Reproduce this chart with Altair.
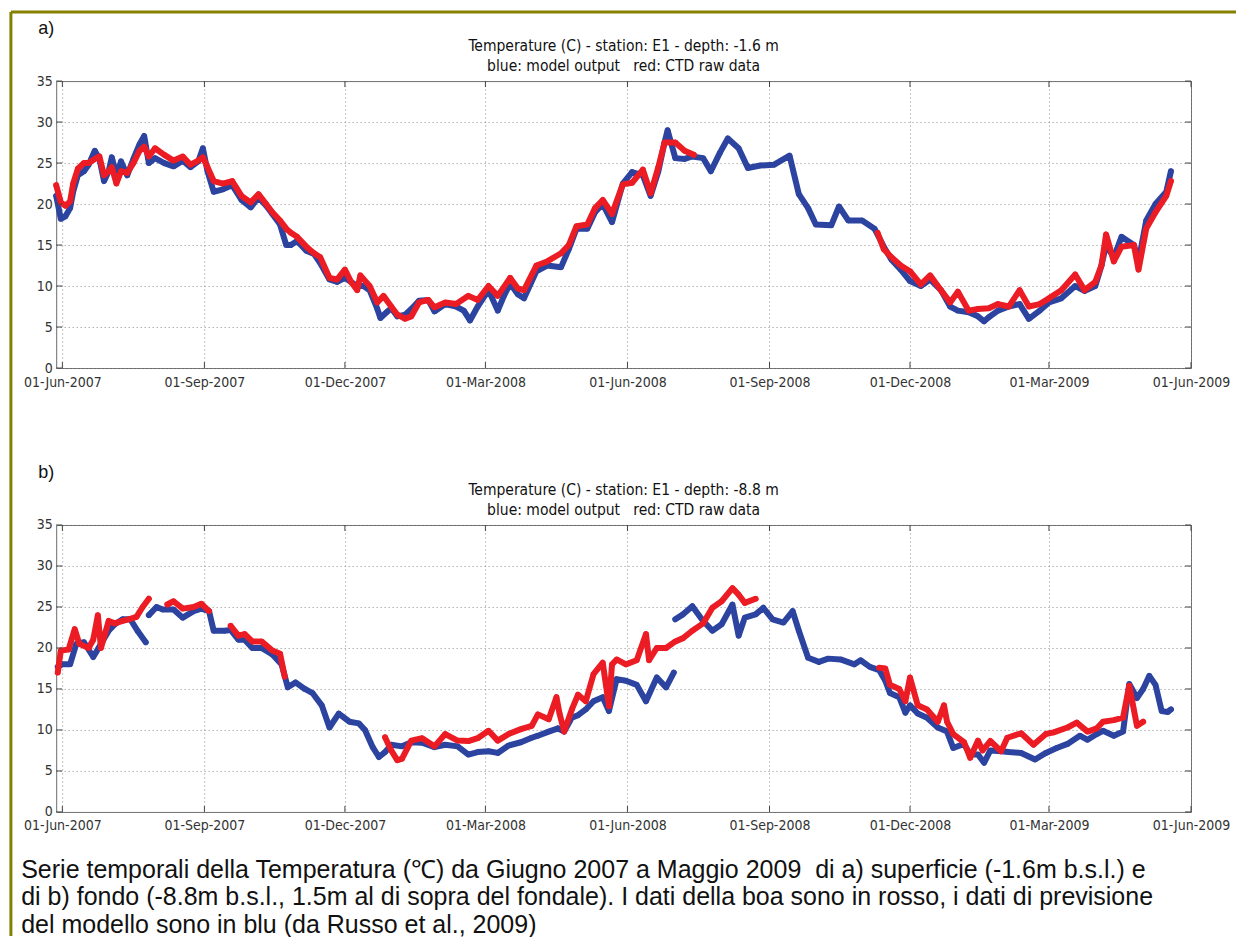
import altair as alt
import pandas as pd

# ---------------- data ----------------
# x tick dates and y tick values
tick_dates = ["2007-06-01", "2007-09-01", "2007-12-01", "2008-03-01", "2008-06-01",
              "2008-09-01", "2008-12-01", "2009-03-01", "2009-06-01"]
tick_temps = [0, 5, 10, 15, 20, 25, 30, 35]

# Panel a (surface, -1.6 m) : model output (blue)
a_blue_dates = [
    "2007-05-28", "2007-05-31", "2007-06-03", "2007-06-06", "2007-06-08", "2007-06-11", "2007-06-15",
    "2007-06-18", "2007-06-22", "2007-06-25", "2007-06-28", "2007-07-01", "2007-07-03", "2007-07-06",
    "2007-07-09", "2007-07-13", "2007-07-17", "2007-07-21", "2007-07-24", "2007-07-27", "2007-07-31",
    "2007-08-06", "2007-08-12", "2007-08-18", "2007-08-23", "2007-08-28", "2007-08-31", "2007-09-03",
    "2007-09-07", "2007-09-13", "2007-09-19", "2007-09-25", "2007-10-01", "2007-10-06", "2007-10-11",
    "2007-10-15", "2007-10-20", "2007-10-24", "2007-10-27", "2007-10-31", "2007-11-06", "2007-11-11",
    "2007-11-15", "2007-11-21", "2007-11-26", "2007-12-01", "2007-12-05", "2007-12-09", "2007-12-13",
    "2007-12-17", "2007-12-22", "2007-12-24", "2007-12-28", "2007-12-31", "2008-01-04", "2008-01-09",
    "2008-01-13", "2008-01-18", "2008-01-24", "2008-01-28", "2008-02-04", "2008-02-11", "2008-02-16",
    "2008-02-20", "2008-02-25", "2008-03-03", "2008-03-09", "2008-03-13", "2008-03-17", "2008-03-22",
    "2008-03-26", "2008-04-03", "2008-04-10", "2008-04-19", "2008-04-24", "2008-04-29", "2008-05-06",
    "2008-05-11", "2008-05-16", "2008-05-22", "2008-05-29", "2008-06-04", "2008-06-11", "2008-06-16",
    "2008-06-21", "2008-06-25", "2008-06-27", "2008-07-02", "2008-07-08", "2008-07-13", "2008-07-20",
    "2008-07-25", "2008-07-31", "2008-08-05", "2008-08-12", "2008-08-18", "2008-08-26", "2008-09-04",
    "2008-09-14", "2008-09-20", "2008-09-26", "2008-10-01", "2008-10-11", "2008-10-16", "2008-10-22",
    "2008-10-31", "2008-11-08", "2008-11-14", "2008-11-19", "2008-11-25", "2008-12-01", "2008-12-08",
    "2008-12-14", "2008-12-21", "2008-12-27", "2009-01-01", "2009-01-08", "2009-01-14", "2009-01-18",
    "2009-01-21", "2009-01-27", "2009-02-03", "2009-02-10", "2009-02-16", "2009-02-23", "2009-03-01",
    "2009-03-09", "2009-03-18", "2009-03-24", "2009-03-31", "2009-04-04", "2009-04-07", "2009-04-12",
    "2009-04-17", "2009-04-25", "2009-04-28", "2009-05-03", "2009-05-09", "2009-05-16", "2009-05-19"]
a_blue_temps = [
    21.0, 18.2, 18.5, 19.5, 21.5, 23.5, 24.0,
    24.8, 26.5, 25.5, 22.8, 24.0, 25.7, 23.5,
    25.2, 23.5, 25.5, 27.3, 28.3, 25.0, 25.6,
    25.0, 24.6, 25.3, 24.5, 25.2, 26.8, 24.0,
    21.5, 21.8, 22.3, 20.5, 19.6, 20.8, 19.8,
    18.8, 17.5, 15.0, 15.0, 15.5, 14.3, 13.9,
    12.8, 10.8, 10.5, 11.0, 10.5, 10.0, 10.0,
    9.5, 7.2, 6.1, 6.8, 7.3, 6.3, 6.5,
    7.2, 8.2, 8.3, 6.9, 7.8, 7.5, 7.0,
    5.8, 7.5, 9.5, 7.0, 8.8, 10.3, 9.0,
    8.5, 11.8, 12.5, 12.3, 14.5, 17.0, 17.0,
    19.0, 20.0, 17.8, 22.5, 23.9, 23.5, 21.0,
    24.0, 27.5, 29.0, 25.6, 25.5, 25.8, 25.6,
    24.0, 26.3, 28.0, 26.8, 24.4, 24.7, 24.8,
    25.9, 21.2, 19.5, 17.5, 17.4, 19.7, 18.0,
    18.0, 17.0, 14.8, 13.2, 12.0, 10.6, 10.0,
    10.8, 9.5, 7.5, 7.0, 6.8, 6.3, 5.7,
    6.2, 7.0, 7.5, 7.8, 6.0, 7.0, 8.0,
    8.5, 10.0, 9.4, 10.0, 12.5, 15.0, 13.5,
    16.0, 15.0, 13.0, 18.0, 20.0, 21.5, 24.0]

# Panel a : CTD raw data (red); None marks a gap in the record
a_red_dates = [
    "2007-05-28", "2007-05-31", "2007-06-03", "2007-06-06", "2007-06-08", "2007-06-11", "2007-06-15",
    "2007-06-18", "2007-06-22", "2007-06-25", "2007-06-28", "2007-07-01", "2007-07-03", "2007-07-06",
    "2007-07-09", "2007-07-13", "2007-07-17", "2007-07-21", "2007-07-24", "2007-07-27", "2007-07-31",
    "2007-08-06", "2007-08-12", "2007-08-18", "2007-08-23", "2007-08-28", "2007-08-31", "2007-09-03",
    "2007-09-07", "2007-09-13", "2007-09-19", "2007-09-25", "2007-10-01", "2007-10-06", "2007-10-11",
    "2007-10-15", "2007-10-20", "2007-10-24", "2007-10-27", "2007-10-31", "2007-11-06", "2007-11-11",
    "2007-11-15", "2007-11-21", "2007-11-26", "2007-12-01", "2007-12-05", "2007-12-09", "2007-12-11",
    "2007-12-17", "2007-12-22", "2007-12-26", "2007-12-31", "2008-01-04", "2008-01-09", "2008-01-13",
    "2008-01-18", "2008-01-24", "2008-01-28", "2008-02-04", "2008-02-11", "2008-02-19", "2008-02-25",
    "2008-03-03", "2008-03-09", "2008-03-17", "2008-03-22", "2008-03-26", "2008-04-03", "2008-04-10",
    "2008-04-19", "2008-04-24", "2008-04-29", "2008-05-06", "2008-05-11", "2008-05-16", "2008-05-22",
    "2008-05-29", "2008-06-04", "2008-06-11", "2008-06-16", "2008-06-21", "2008-06-25", "2008-07-02",
    "2008-07-08", "2008-07-14", None,
    "2008-11-10", "2008-11-14", "2008-11-19", "2008-11-25", "2008-12-01", "2008-12-08", "2008-12-14",
    "2008-12-21", "2008-12-27", "2009-01-01", "2009-01-08", "2009-01-14", "2009-01-21", "2009-01-27",
    "2009-02-03", "2009-02-10", "2009-02-16", "2009-02-23", "2009-03-01", "2009-03-09", "2009-03-18",
    "2009-03-24", "2009-03-31", "2009-04-04", "2009-04-07", "2009-04-12", "2009-04-17", "2009-04-25",
    "2009-04-28", "2009-05-03", "2009-05-09", "2009-05-16", "2009-05-19"]
a_red_temps = [
    22.3, 20.2, 19.8, 20.3, 22.5, 24.3, 25.0,
    25.0, 25.5, 25.8, 23.5, 24.0, 24.5, 22.5,
    24.0, 23.8, 25.0, 26.5, 27.0, 25.8, 26.8,
    26.0, 25.3, 25.8, 24.8, 25.3, 25.7, 24.5,
    22.8, 22.5, 22.8, 21.0, 20.2, 21.2, 20.0,
    19.0, 18.0, 17.0, 16.5, 16.0, 14.8, 14.0,
    13.5, 11.0, 10.8, 12.0, 10.5, 9.5, 11.3,
    10.0, 8.0, 8.8, 7.5, 6.5, 6.0, 6.3,
    8.0, 8.3, 7.4, 8.0, 7.8, 8.8, 8.3,
    10.0, 8.8, 11.0, 9.7, 9.5, 12.5, 13.0,
    14.0, 15.0, 17.3, 17.5, 19.5, 20.5, 18.8,
    22.4, 22.6, 24.2, 21.3, 24.5, 27.5, 27.5,
    26.5, 26.0, None,
    16.5, 14.5, 13.5, 12.5, 11.8, 10.2, 11.3,
    9.5, 8.0, 9.3, 7.0, 7.2, 7.3, 7.8,
    7.5, 9.5, 7.5, 7.8, 8.5, 9.5, 11.4,
    9.5, 10.5, 12.5, 16.3, 13.0, 14.8, 15.0,
    12.0, 17.0, 19.0, 21.0, 22.8]

# Panel b (bottom, -8.8 m) : model output (blue)
b_blue_dates = [
    "2007-05-29", "2007-06-01", "2007-06-06", "2007-06-10", "2007-06-15", "2007-06-21", "2007-06-26",
    "2007-07-01", "2007-07-05", "2007-07-10", "2007-07-15", "2007-07-20", "2007-07-25", None,
    "2007-07-27", "2007-08-01", "2007-08-05", "2007-08-12", "2007-08-18", "2007-08-25", "2007-08-30",
    "2007-09-04", "2007-09-07", "2007-09-14", "2007-09-18", "2007-09-23", "2007-09-27", "2007-10-02",
    "2007-10-08", "2007-10-15", "2007-10-21", "2007-10-25", "2007-10-30", "2007-11-05", "2007-11-10",
    "2007-11-16", "2007-11-21", "2007-11-27", "2007-12-04", "2007-12-10", "2007-12-14", "2007-12-19",
    "2007-12-23", "2007-12-27", "2007-12-31", "2008-01-07", "2008-01-13", "2008-01-20", "2008-01-28",
    "2008-02-04", "2008-02-12", "2008-02-19", "2008-02-25", "2008-03-03", "2008-03-09", "2008-03-16",
    "2008-03-24", "2008-03-31", "2008-04-04", "2008-04-11", "2008-04-17", "2008-04-21", "2008-04-26",
    "2008-04-30", "2008-05-05", "2008-05-10", "2008-05-16", "2008-05-20", "2008-05-25", "2008-05-31",
    "2008-06-07", "2008-06-13", "2008-06-20", "2008-06-26", "2008-07-01", None,
    "2008-07-02", "2008-07-07", "2008-07-13", "2008-07-20", "2008-07-26", "2008-08-01", "2008-08-08",
    "2008-08-12", "2008-08-16", "2008-08-23", "2008-08-28", "2008-09-03", "2008-09-10", "2008-09-16",
    "2008-09-20", "2008-09-26", "2008-10-03", "2008-10-09", "2008-10-17", "2008-10-26", "2008-10-30",
    "2008-11-05", "2008-11-11", "2008-11-15", "2008-11-18", "2008-11-24", "2008-11-28", "2008-12-01",
    "2008-12-06", "2008-12-12", "2008-12-19", "2008-12-25", "2008-12-29", "2009-01-05", "2009-01-09",
    "2009-01-14", "2009-01-18", "2009-01-22", "2009-01-29", "2009-02-03", "2009-02-11", "2009-02-20",
    "2009-02-27", "2009-03-06", "2009-03-13", "2009-03-21", "2009-03-26", "2009-04-01", "2009-04-05",
    "2009-04-12", "2009-04-18", "2009-04-22", "2009-04-27", "2009-05-01", "2009-05-05", "2009-05-09",
    "2009-05-13", "2009-05-17", "2009-05-19"]
b_blue_temps = [
    17.7, 18.0, 18.0, 20.5, 20.7, 18.9, 20.5,
    22.1, 22.9, 23.5, 23.5, 22.0, 20.7, None,
    24.0, 25.0, 24.7, 24.7, 23.7, 24.5, 24.8,
    24.5, 22.1, 22.1, 22.2, 21.0, 21.0, 20.0,
    20.0, 19.2, 18.0, 15.2, 15.8, 15.0, 14.5,
    13.0, 10.3, 12.0, 11.0, 10.8, 10.0, 7.9,
    6.7, 7.3, 8.2, 8.0, 8.5, 8.45, 7.9,
    8.2, 8.0, 7.0, 7.3, 7.4, 7.2, 8.1,
    8.5, 9.05, 9.3, 9.8, 10.2, 9.8, 11.5,
    11.8, 12.5, 13.5, 14.0, 12.3, 16.2, 16.0,
    15.5, 13.5, 16.4, 15.2, 17.0, None,
    23.5, 24.1, 25.1, 23.3, 22.1, 22.9, 25.3,
    21.5, 23.7, 24.1, 24.9, 23.5, 23.1, 24.5,
    22.1, 18.8, 18.3, 18.7, 18.6, 18.0, 18.5,
    17.7, 17.3, 16.0, 14.5, 14.0, 12.1, 13.0,
    12.0, 11.5, 10.3, 9.8, 7.8, 8.3, 7.0,
    7.0, 6.0, 7.5, 7.4, 7.3, 7.2, 6.4,
    7.2, 7.8, 8.3, 9.3, 8.8, 9.5, 9.9,
    9.3, 9.8, 15.6, 13.9, 15.0, 16.6, 15.5,
    12.3, 12.2, 12.5]

# Panel b : CTD raw data (red)
b_red_dates = [
    "2007-05-29", "2007-05-31", "2007-06-05", "2007-06-09", "2007-06-12", "2007-06-18", "2007-06-21",
    "2007-06-24", "2007-06-26", "2007-07-01", "2007-07-05", "2007-07-10", "2007-07-14", "2007-07-19",
    "2007-07-23", "2007-07-27", None,
    "2007-08-08", "2007-08-12", "2007-08-18", "2007-08-25", "2007-08-30", "2007-09-04", None,
    "2007-09-18", "2007-09-23", "2007-09-27", "2007-10-02", "2007-10-08", "2007-10-15", "2007-10-20",
    "2007-10-23", None,
    "2007-12-27", "2007-12-31", "2008-01-04", "2008-01-07", "2008-01-13", "2008-01-20", "2008-01-28",
    "2008-02-04", "2008-02-12", "2008-02-19", "2008-02-25", "2008-03-03", "2008-03-09", "2008-03-16",
    "2008-03-24", "2008-03-31", "2008-04-04", "2008-04-11", "2008-04-16", "2008-04-18", "2008-04-21",
    "2008-04-26", "2008-04-30", "2008-05-05", "2008-05-10", "2008-05-16", "2008-05-20", "2008-05-22",
    "2008-05-25", "2008-05-31", "2008-06-07", "2008-06-13", "2008-06-15", "2008-06-20", "2008-06-26",
    "2008-07-02", "2008-07-07", "2008-07-13", "2008-07-20", "2008-07-26", "2008-08-01", "2008-08-08",
    "2008-08-12", "2008-08-16", "2008-08-23", None,
    "2008-11-11", "2008-11-15", "2008-11-18", "2008-11-24", "2008-11-28", "2008-12-01", "2008-12-06",
    "2008-12-12", "2008-12-19", "2008-12-23", "2008-12-25", "2008-12-29", "2009-01-05", "2009-01-09",
    "2009-01-14", "2009-01-17", "2009-01-22", "2009-01-29", "2009-02-02", "2009-02-11", "2009-02-19",
    "2009-02-27", "2009-03-04", "2009-03-13", "2009-03-19", "2009-03-26", "2009-04-01", "2009-04-05",
    "2009-04-12", "2009-04-18", "2009-04-22", "2009-04-27", "2009-05-01"]
b_red_temps = [
    17.0, 19.7, 19.8, 22.3, 20.5, 20.0, 21.0,
    24.0, 20.0, 23.3, 23.0, 23.3, 23.5, 23.8,
    25.0, 26.0, None,
    25.3, 25.7, 24.8, 25.0, 25.4, 24.5, None,
    22.7, 21.5, 21.7, 20.8, 20.8, 19.7, 19.3,
    16.5, None,
    9.1, 7.5, 6.3, 6.5, 8.7, 9.0, 8.0,
    9.5, 8.7, 8.65, 9.0, 9.9, 8.7, 9.5,
    10.1, 10.5, 11.9, 11.3, 14.0, 12.0, 9.8,
    12.5, 14.3, 13.5, 16.8, 18.2, 12.9, 18.0,
    18.6, 18.0, 18.5, 21.7, 18.5, 20.0, 20.0,
    20.8, 21.2, 22.1, 23.0, 24.9, 25.7, 27.3,
    26.5, 25.5, 26.0, None,
    17.6, 17.5, 15.5, 15.0, 13.5, 16.4, 13.0,
    12.5, 11.0, 13.0, 11.0, 9.5, 8.5, 6.6,
    8.7, 7.5, 8.65, 7.4, 9.05, 9.6, 8.2,
    9.5, 9.7, 10.3, 10.9, 9.8, 10.2, 11.0,
    11.2, 11.5, 15.4, 10.5, 11.0]

NB = "\u00a0"
titles_a = ["Temperature (C) - station: E1 - depth: -1.6 m",
            "blue: model output" + NB * 3 + "red: CTD raw data"]
titles_b = ["Temperature (C) - station: E1 - depth: -8.8 m",
            "blue: model output" + NB * 3 + "red: CTD raw data"]
caption_lines = [
    "Serie temporali della Temperatura (\u2103) da Giugno 2007 a Maggio 2009" + NB * 2 +
    "di a) superficie (-1.6m b.s.l.) e",
    "di b) fondo (-8.8m b.s.l., 1.5m al di sopra del fondale). I dati della boa sono in rosso, i dati di previsione",
    "del modello sono in blu (da Russo et al., 2009)",
]

# ---------------- styling ----------------
BLUE = "#2c44a0"
RED = "#ec1c24"
OLIVE = "#858000"
W, H = 1135, 287
NARROW = "Liberation Sans Narrow, Arial Narrow, DejaVu Sans Condensed, Liberation Sans"
SANS = "Liberation Sans, Arial, Helvetica"


def series_df(dates, temps):
    rows, seg = [], 0
    for d, t in zip(dates, temps):
        if t is None:
            seg += 1
            continue
        rows.append({"date": d, "temp": t, "seg": seg})
    return pd.DataFrame(rows)


def dt(s):
    ts = pd.Timestamp(s)
    return alt.DateTime(year=ts.year, month=ts.month, date=ts.day, utc=True)


x_scale = alt.Scale(type="utc", domain=[dt("2007-05-28"), dt("2009-06-01")])
y_scale = alt.Scale(domain=[0, 35], nice=False, zero=True)

X = alt.X("date:T", scale=x_scale,
          axis=alt.Axis(values=[dt(d) for d in tick_dates],
                        labelExpr="utcFormat(datum.value, '%d-%b-%Y')",
                        title=None, grid=True, gridDash=[1, 3], gridColor="#8a8a8a", gridWidth=1,
                        domain=False, ticks=False, labelPadding=7, labelFont=NARROW,
                        labelFontSize=14, labelColor="#333333", labelFlush=False, labelOverlap=False))
Y = alt.Y("temp:Q", scale=y_scale,
          axis=alt.Axis(values=tick_temps, title=None, grid=True, gridDash=[1, 3], gridColor="#8a8a8a",
                        gridWidth=1, domain=False, ticks=False, labelPadding=4, labelFont=NARROW,
                        labelFontSize=14, labelColor="#333333"))

one = pd.DataFrame({"k": [0]})
xt_df = pd.DataFrame({"date": tick_dates})
yt_df = pd.DataFrame({"temp": tick_temps})


def txt(text, x, y, font, size, align="left", color="#111111"):
    return alt.Chart(one).mark_text(text=text, font=font, fontSize=size, align=align,
                                    baseline="middle", color=color).encode(
        x=alt.value(x), y=alt.value(y))


def panel(blue_dates, blue_temps, red_dates, red_temps, titles, label, extra=None):
    bdf = series_df(blue_dates, blue_temps)
    rdf = series_df(red_dates, red_temps)
    layers = [
        alt.Chart(bdf).mark_line(color=BLUE, strokeWidth=6, strokeJoin="round", strokeCap="round")
        .encode(x=X, y=Y, detail="seg:N"),
        alt.Chart(bdf).mark_circle(color=BLUE, size=30, opacity=1).encode(x=X, y=Y),
        alt.Chart(rdf).mark_line(color=RED, strokeWidth=6, strokeJoin="round", strokeCap="round")
        .encode(x=X, y=Y, detail="seg:N"),
        alt.Chart(rdf).mark_circle(color=RED, size=30, opacity=1).encode(x=X, y=Y),
        # inward ticks (bottom, top, left, right)
        alt.Chart(xt_df).mark_rule(color="#444444").encode(x=X, y=alt.value(H), y2=alt.value(H - 6)),
        alt.Chart(xt_df).mark_rule(color="#444444").encode(x=X, y=alt.value(0), y2=alt.value(6)),
        alt.Chart(yt_df).mark_rule(color="#444444").encode(y=Y, x=alt.value(0), x2=alt.value(6)),
        alt.Chart(yt_df).mark_rule(color="#444444").encode(y=Y, x=alt.value(W - 6), x2=alt.value(W)),
        txt(label, -18, -52, SANS, 18),
        txt(titles[0], W / 2, -35, NARROW, 15.5, align="center"),
        txt(titles[1], W / 2, -15, NARROW, 15.5, align="center"),
    ]
    if extra:
        layers += extra
    return alt.layer(*layers).properties(width=W, height=H)


border = [
    alt.Chart(one).mark_rule(color=OLIVE, strokeWidth=3, strokeCap="butt")
    .encode(x=alt.value(-45.3), y=alt.value(-69), y2=alt.value(855)),
    alt.Chart(one).mark_rule(color=OLIVE, strokeWidth=3, strokeCap="butt")
    .encode(x=alt.value(-45.3), x2=alt.value(1180), y=alt.value(-69)),
]

caption = [txt(line, -35, 345 + 27.5 * i, SANS, 25) for i, line in enumerate(caption_lines)]

pa = panel(a_blue_dates, a_blue_temps, a_red_dates, a_red_temps, titles_a, "a)", border)
pb = panel(b_blue_dates, b_blue_temps, b_red_dates, b_red_temps, titles_b, "b)", caption)

chart = alt.vconcat(pa, pb, spacing=157, bounds="flush").properties(
    padding={"left": 8.2, "top": 10, "right": 0, "bottom": 0},
    background="white",
).configure_view(stroke="#6a6a6a", strokeWidth=1)

chart.save("out.html", embed_options={"renderer": "svg", "actions": False})
